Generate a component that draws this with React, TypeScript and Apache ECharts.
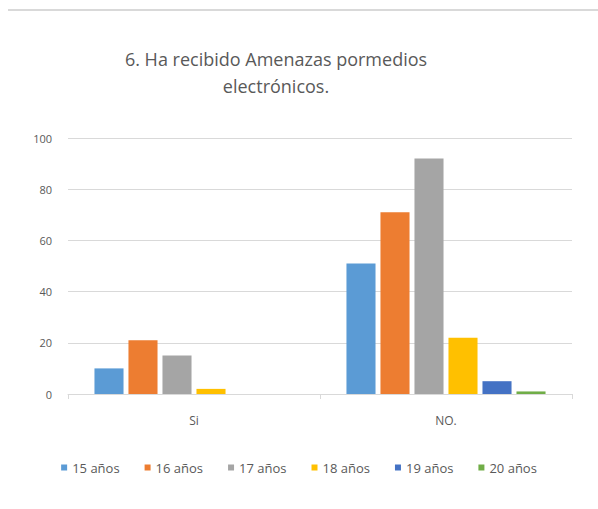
import React, { useEffect, useRef } from "react";
import * as echarts from "echarts";

const categories = ["Si", "NO."];
const seriesNames = ["15 años", "16 años", "17 años", "18 años", "19 años", "20 años"];
const v15 = [10, 51];
const v16 = [21, 71];
const v17 = [15, 92];
const v18 = [2, 22];
const v19 = [0, 5];
const v20 = [0, 1];
const seriesValues = [v15, v16, v17, v18, v19, v20];
const colors = ["#5B9BD5", "#ED7D31", "#A5A5A5", "#FFC000", "#4472C4", "#70AD47"];
const titleText = "6. Ha recibido Amenazas pormedios\nelectrónicos.";

export default function App() {
  const ref = useRef<HTMLDivElement>(null);
  useEffect(() => {
    document.body.style.margin = "0";
    if (!ref.current) return;
    const chart = echarts.init(ref.current, undefined, { renderer: "svg" });
    const font = "'Open Sans', 'Noto Sans', sans-serif";
    chart.setOption({
      animation: false,
      backgroundColor: "#ffffff",
      color: colors,
      textStyle: { fontFamily: font },
      title: {
        text: titleText,
        left: 271,
        textAlign: "center",
        top: 40,
        textStyle: {
          fontFamily: font,
          fontSize: 18,
          fontWeight: "normal",
          color: "#595959",
          lineHeight: 27,
        },
      },
      graphic: [
        {
          type: "line",
          shape: { x1: 8, y1: 10, x2: 598, y2: 10 },
          style: { stroke: "#d9d9d9", lineWidth: 2 },
        },
      ],
      legend: {
        bottom: 30,
        left: "center",
        itemWidth: 6,
        itemHeight: 6,
        itemGap: 25,
        icon: "rect",
        textStyle: { fontFamily: font, fontSize: 13, color: "#595959" },
        data: seriesNames,
      },
      grid: { left: 68, right: 26, top: 138, bottom: 115 },
      xAxis: {
        type: "category",
        data: categories,
        axisLine: { lineStyle: { color: "#d9d9d9" } },
        axisTick: { show: true, length: 5, lineStyle: { color: "#d9d9d9" } },
        axisLabel: { color: "#595959", fontSize: 12, margin: 20, fontFamily: font },
      },
      yAxis: {
        type: "value",
        min: 0,
        max: 100,
        interval: 20,
        axisLine: { show: false },
        axisTick: { show: false },
        splitLine: { lineStyle: { color: "#d9d9d9" } },
        axisLabel: { color: "#595959", fontSize: 11, margin: 16, fontFamily: font },
      },
      series: seriesNames.map((name, i) => ({
        name,
        type: "bar",
        data: seriesValues[i],
        barGap: "17%",
        barCategoryGap: "21%",
        itemStyle: { color: colors[i] },
      })),
    });
    return () => chart.dispose();
  }, []);
  return <div ref={ref} style={{ width: 598, height: 509 }} />;
}
